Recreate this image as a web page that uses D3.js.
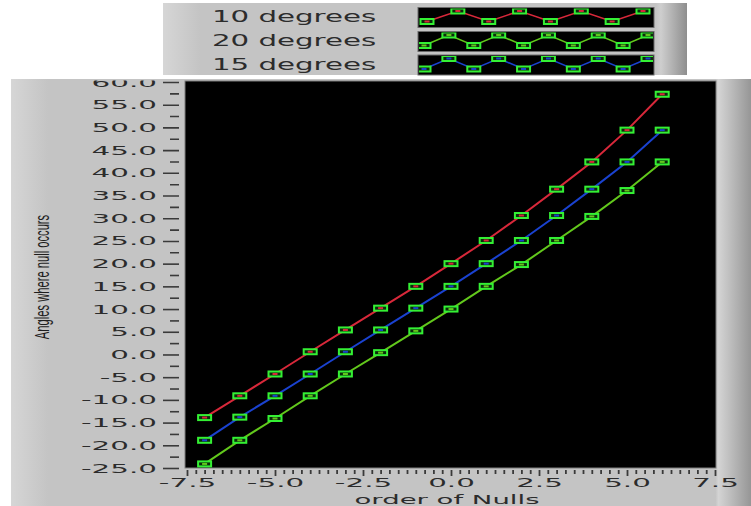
<!DOCTYPE html>
<html>
<head>
<meta charset="utf-8">
<script src="https://cdn.jsdelivr.net/npm/d3@7"></script>
<style>
  body { margin: 0; background: #fff; }
  svg { display: block; }
</style>
</head>
<body>
<svg id="chart" width="751" height="506"></svg>
<script>
// order of null (x) and the three angle series (y, degrees)
const orders = [-7, -6, -5, -4, -3, -2, -1, 0, 1, 2, 3, 4, 5, 6];
const deg10 = [-13.9, -9.1, -4.3, 0.6, 5.4, 10.2, 15.0, 20.0, 25.1, 30.6, 36.4, 42.4, 49.4, 57.3];
const deg20 = [-24.1, -18.9, -14.1, -9.1, -4.3, 0.4, 5.2, 10.0, 15.0, 19.8, 25.1, 30.4, 36.1, 42.4];
const deg15 = [-18.9, -13.8, -9.1, -4.3, 0.6, 5.4, 10.2, 15.0, 20.0, 25.1, 30.6, 36.4, 42.4, 49.4];
const seriesNames = ['10 degrees', '20 degrees', '15 degrees'];
const seriesColors = ['#d8283a', '#62c81c', '#1a42d0'];
const yTicks = [-25, -20, -15, -10, -5, 0, 5, 10, 15, 20, 25, 30, 35, 40, 45, 50, 55, 60];
const xTicks = [-7.5, -5, -2.5, 0, 2.5, 5, 7.5];

const svg = d3.select('#chart');
const defs = svg.append('defs');
const txt = '#2c2c2c';
const font = 'DejaVu Sans, Verdana, sans-serif';
const fmt = d => d.toFixed(1); // plain hyphen minus, like the original

function panelGradient(id, stops) {
  const g = defs.append('linearGradient').attr('id', id).attr('x1', 0).attr('x2', 1).attr('y1', 0).attr('y2', 0);
  stops.forEach(s => g.append('stop').attr('offset', s[0]).attr('stop-color', s[1]));
}
panelGradient('mainBg', [[0, '#d6d6d6'], [0.05, '#c4c4c4'], [0.952, '#c4c4c4'], [0.956, '#d4d4d4'], [1, '#969696']]);
panelGradient('legBg', [[0, '#d6d6d6'], [0.07, '#c4c4c4'], [0.94, '#c4c4c4'], [0.95, '#cecece'], [1, '#8e8e8e']]);

// ---- main panel
svg.append('rect').attr('x', 11).attr('y', 79).attr('width', 740).attr('height', 427).attr('fill', 'url(#mainBg)');
defs.append('clipPath').attr('id', 'panelClip')
  .append('rect').attr('x', 11).attr('y', 80.5).attr('width', 740).attr('height', 427);

const x = d3.scaleLinear().domain([-7.5, 7.5]).range([187, 715]);
const y = d3.scaleLinear().domain([-25, 60]).range([468, 82]);

svg.append('rect')
  .attr('x', x(-7.5) - 2).attr('y', y(60) - 1)
  .attr('width', x(7.5) - x(-7.5) + 3).attr('height', y(-25) - y(60) + 1)
  .attr('fill', '#000').attr('stroke', '#7c7c7c').attr('stroke-width', 1);

function stretchText(sel, sx) {
  sel.each(function () {
    const t = d3.select(this);
    const tx = +t.attr('x') || 0, ty = +t.attr('y') || 0;
    t.attr('x', 0).attr('y', 0).attr('transform', `translate(${tx},${ty}) scale(${sx},1)`);
  });
}

// y axis
const axes = svg.append('g').attr('clip-path', 'url(#panelClip)');
const yMinor = yTicks.slice(0, -1).map(v => v + 2.5);
const yMin = axes.append('g').attr('transform', 'translate(179,0)')
  .call(d3.axisLeft(y).tickValues(yMinor).tickSize(9).tickFormat(''));
const yAx = axes.append('g').attr('transform', 'translate(179,0)')
  .call(d3.axisLeft(y).tickValues(yTicks).tickSize(16).tickPadding(6).tickFormat(fmt));
[yMin, yAx].forEach(g => {
  g.select('.domain').remove();
  g.selectAll('line').attr('stroke', '#3a3a3a').attr('stroke-width', 1.6);
});
yAx.selectAll('text').attr('fill', txt).attr('font-family', font).attr('font-size', 12.5).call(stretchText, 2.35);

// x axis
const xMinor = d3.range(-7.5, 7.5001, 0.25).filter(v => Math.abs(v / 2.5 - Math.round(v / 2.5)) > 1e-6);
const xMin = axes.append('g').attr('transform', 'translate(0,470)')
  .call(d3.axisBottom(x).tickValues(xMinor).tickSize(4).tickFormat(''));
const xAx = axes.append('g').attr('transform', 'translate(0,470)')
  .call(d3.axisBottom(x).tickValues(xTicks).tickSize(6).tickPadding(2).tickFormat(fmt));
[xMin, xAx].forEach(g => {
  g.select('.domain').remove();
  g.selectAll('line').attr('stroke', '#3a3a3a').attr('stroke-width', 1.8);
});
xAx.selectAll('text').attr('fill', txt).attr('font-family', font).attr('font-size', 12.5).call(stretchText, 2.35);

// axis titles
svg.append('text').text('order of Nulls')
  .attr('transform', 'translate(447,503.5) scale(2.2,1)')
  .attr('text-anchor', 'middle').attr('font-family', font).attr('font-size', 12.5).attr('fill', txt);
svg.append('text').text('Angles where null occurs')
  .attr('transform', 'translate(49,277) rotate(-90) scale(0.56,1)')
  .attr('text-anchor', 'middle').attr('font-family', 'Liberation Sans, Arial, sans-serif')
  .attr('font-size', 20).attr('fill', '#1e1e1e');

// ---- plot
const series = [deg10, deg20, deg15];
const line = d3.line().x((d, i) => x(orders[i])).y(d => y(d));
const plot = svg.append('g');

function drawMarkers(g, pts, color) {
  const m = g.selectAll(null).data(pts).enter().append('g')
    .attr('transform', d => `translate(${d[0]},${d[1]})`);
  m.append('rect').attr('x', -6.5).attr('y', -2.5).attr('width', 13).attr('height', 5)
    .attr('fill', '#0c2a0c').attr('stroke', '#34f034').attr('stroke-width', 2);
  m.append('rect').attr('x', -2.5).attr('y', -1).attr('width', 5).attr('height', 2).attr('fill', color);
}

series.forEach((s, k) => {
  plot.append('path').datum(s).attr('d', line)
    .attr('fill', 'none').attr('stroke', seriesColors[k]).attr('stroke-width', 2);
});
series.forEach((s, k) => {
  drawMarkers(plot, s.map((v, i) => [x(orders[i]), y(v)]), seriesColors[k]);
});

// ---- legend
svg.append('rect').attr('x', 163).attr('y', 3).attr('width', 524).attr('height', 72).attr('fill', 'url(#legBg)');
const legTop = [8.5, 32.5, 56];
const legPts = [8, 10, 10];
seriesNames.forEach((name, k) => {
  const top = legTop[k];
  svg.append('text').text(name)
    .attr('transform', `translate(212,${top + 13.5}) scale(1.95,1)`)
    .attr('font-family', font).attr('font-size', 15).attr('fill', txt);
  const bx = 419, bw = 234, bh = 18;
  defs.append('clipPath').attr('id', 'leg' + k)
    .append('rect').attr('x', bx).attr('y', top).attr('width', bw).attr('height', bh);
  svg.append('rect').attr('x', bx - 1).attr('y', top - 1).attr('width', bw + 2).attr('height', bh + 2)
    .attr('fill', '#000').attr('stroke', '#6a6a6a').attr('stroke-width', 1);
  const g = svg.append('g').attr('clip-path', `url(#leg${k})`);
  const n = legPts[k];
  const sx = d3.scaleLinear().domain([0, n - 1]).range(k === 0 ? [bx + 8, bx + 224] : [bx + 5, bx + 229]);
  const pts = d3.range(n).map(i => [sx(i), i % 2 ? top + 2.5 : top + bh - 5]);
  g.append('path').datum(pts).attr('d', d3.line())
    .attr('fill', 'none').attr('stroke', seriesColors[k]).attr('stroke-width', 1.6);
  drawMarkers(g, pts, seriesColors[k]);
});
</script>
</body>
</html>
